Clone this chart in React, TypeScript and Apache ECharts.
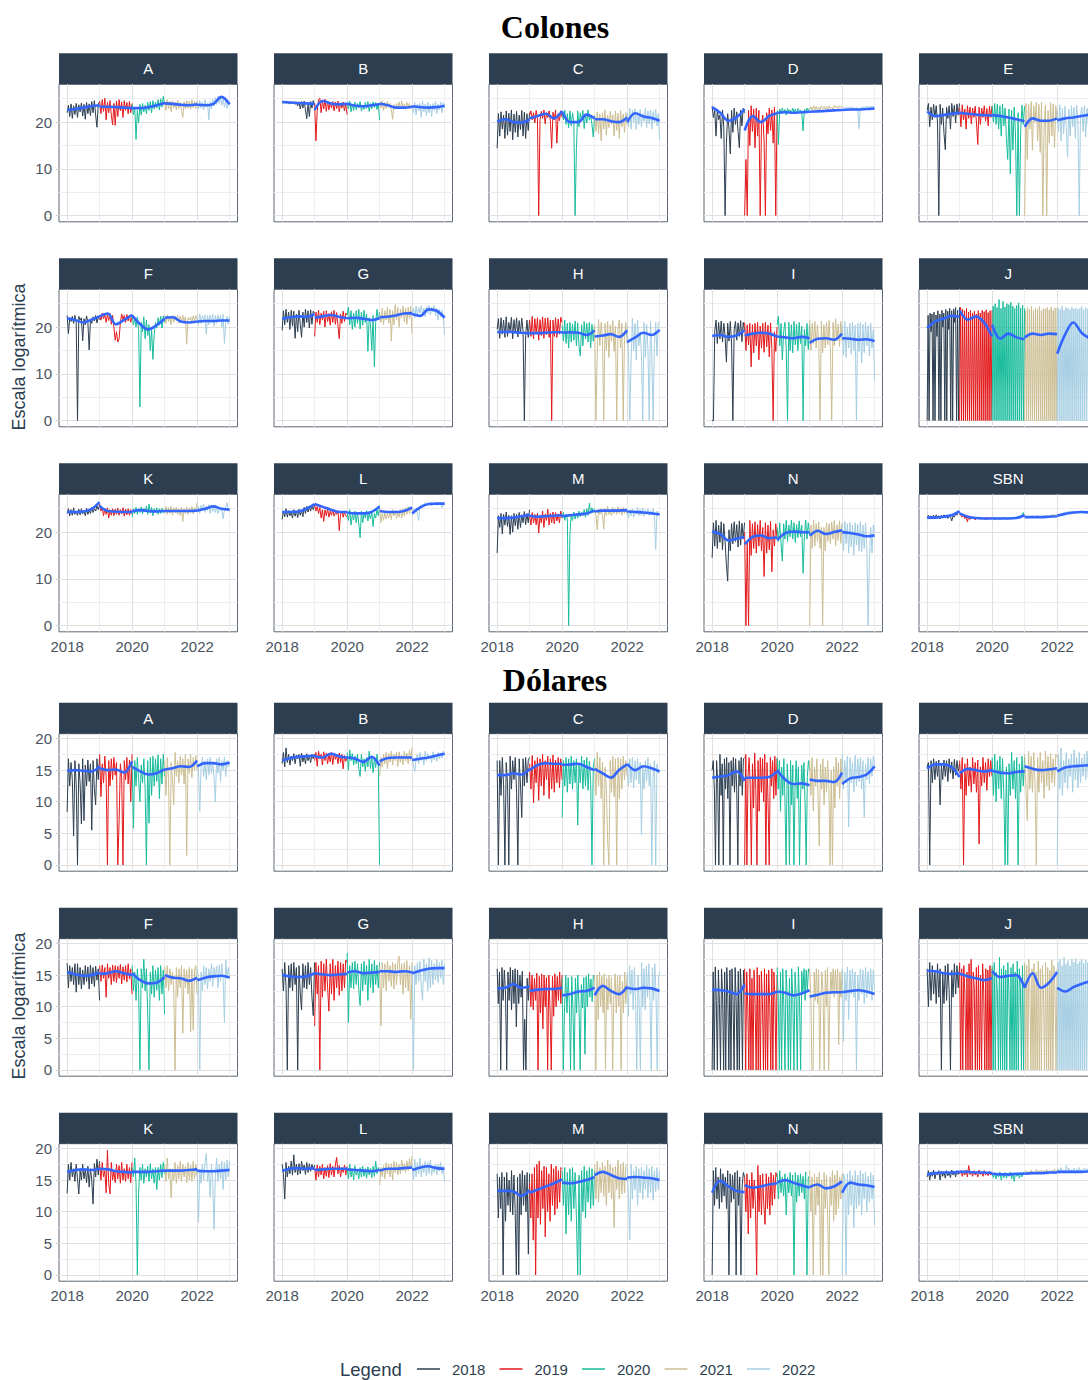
import { useEffect, useRef } from "react";
import * as echarts from "echarts";

// ---------- categories & ticks ----------
const YEARS = [2018, 2019, 2020, 2021, 2022];
const YEAR_COLORS = ["#2C3E50", "#E31A1C", "#18BC9C", "#CCBE93", "#A6CEE3"];
const PANEL_NAMES = ["A", "B", "C", "D", "E", "F", "G", "H", "I", "J", "K", "L", "M", "N", "SBN"];
const X_TICKS = [2018, 2020, 2022];
const X_MINOR = [2019, 2021, 2023];
const COLONES_TICKS = [0, 10, 20];
const COLONES_MINOR = [5, 15, 25];
const DOLARES_TICKS = [0, 5, 10, 15, 20];
const DOLARES_MINOR = [2.5, 7.5, 12.5, 17.5];

// ---------- Colones: readings per year (2018..2022) ----------
const colA = [
  [22.0, 23.6, 21.2, 23.9, 20.8, 23.5, 21.6, 24.0, 21.0, 23.7, 22.2, 24.1, 21.3, 23.8, 20.6, 24.2, 21.8, 23.9, 21.4, 24.4, 22.0, 24.6, 21.5, 18.9, 23.8, 24.3],
  [24.5, 21.8, 24.8, 22.3, 25.1, 20.5, 24.2, 22.0, 24.6, 21.5, 19.4, 24.0, 19.3, 24.5, 21.2, 24.8, 22.4, 24.3, 21.0, 24.6, 22.5, 24.2, 21.8, 24.4, 22.0, 24.0],
  [23.8, 21.6, 23.2, 16.3, 22.5, 19.8, 23.8, 21.5, 24.0, 22.2, 23.6, 21.8, 24.2, 22.5, 24.4, 22.0, 24.6, 22.8, 24.3, 23.0, 24.8, 22.6, 25.0, 23.2, 25.5, 23.8],
  [24.0, 22.5, 24.8, 22.8, 24.5, 22.2, 24.6, 23.0, 24.3, 22.6, 24.7, 22.9, 24.2, 22.4, 21.0, 24.4, 22.8, 24.6, 23.0, 24.5, 22.7, 24.8, 23.1, 24.4, 22.9, 24.6],
  [24.2, 22.8, 24.6, 23.0, 24.3, 22.6, 24.8, 23.2, 24.0, 20.5, 24.4, 22.8, 24.9, 23.4, 25.2, 23.8, 25.6, 24.0, 25.3, 23.6, 25.0, 23.2, 24.6, 22.9, 24.2, 23.6],
];
const colAFit = [[22.6, 22.8, 23.1, 23.4, 23.6], [23.3, 23.3, 23.2, 23.1, 23.0], [23.0, 23.0, 23.2, 23.6, 24.1], [24.0, 23.9, 23.7, 23.6, 23.8], [23.7, 23.6, 23.9, 25.4, 23.8]];

const colB = [
  [24.2, 24.1, 24.3, 24.0, 24.2, 24.1, 23.9, 24.2, 24.0, 24.3, 23.8, 24.2, 23.5, 24.3, 22.8, 24.4, 23.0, 24.5, 22.6, 20.7, 24.0, 21.2, 24.4, 23.0, 24.6, 23.6],
  [24.0, 16.0, 22.5, 24.8, 25.1, 22.0, 24.6, 22.8, 24.9, 22.3, 24.5, 22.6, 24.2, 23.0, 24.4, 22.4, 24.3, 22.9, 24.5, 22.2, 24.1, 23.0, 24.3, 22.4, 24.0, 21.6],
  [24.2, 22.8, 24.5, 22.2, 23.8, 22.5, 24.3, 22.6, 24.0, 23.0, 24.4, 22.4, 23.6, 22.7, 24.2, 22.9, 24.4, 22.3, 24.0, 22.8, 24.3, 23.1, 24.2, 22.7, 24.0, 20.4],
  [24.3, 23.0, 24.6, 22.5, 24.2, 22.9, 24.4, 23.2, 24.0, 22.6, 20.6, 23.8, 22.8, 24.0, 23.2, 24.3, 22.8, 24.5, 23.0, 23.9, 22.7, 24.2, 23.4, 24.0, 22.9, 23.6],
  [23.5, 22.0, 24.2, 21.5, 23.8, 22.4, 24.0, 21.0, 24.5, 22.2, 23.9, 21.4, 24.3, 22.0, 23.8, 21.2, 24.0, 22.5, 24.4, 21.8, 23.9, 22.6, 24.3, 22.0, 24.1, 23.0],
];
const colBFit = [[24.3, 24.2, 24.1, 24.0, 23.9], [22.6, 24.5, 24.0, 23.8, 23.9], [24.0, 23.5, 23.4, 23.6, 23.8], [24.0, 23.6, 23.1, 23.1, 23.3], [23.4, 23.2, 23.1, 23.2, 23.5]];

const colC = [
  [14.4, 21.8, 17.0, 22.2, 18.5, 21.5, 16.5, 22.4, 17.2, 21.9, 18.0, 22.6, 16.2, 21.7, 17.8, 22.3, 16.8, 21.5, 18.4, 22.5, 17.0, 22.1, 16.5, 21.8, 18.2, 22.0],
  [21.5, 22.4, 20.5, 22.0, 19.8, 22.5, 21.0, 0, 20.5, 22.3, 20.8, 22.6, 19.6, 22.0, 21.0, 22.4, 20.2, 14.4, 22.1, 20.5, 22.6, 15.5, 21.8, 20.3, 22.4, 21.0],
  [22.0, 20.5, 22.6, 19.5, 21.8, 18.8, 22.4, 19.2, 22.0, 20.0, 0, 14.3, 22.4, 19.0, 22.0, 20.2, 22.5, 18.6, 21.8, 19.8, 22.6, 20.4, 21.5, 19.5, 16.8, 21.5],
  [21.5, 18.0, 22.2, 17.5, 21.8, 16.0, 22.0, 18.5, 22.6, 17.2, 21.5, 18.8, 22.3, 19.5, 21.6, 17.0, 22.4, 18.2, 21.9, 16.5, 22.5, 19.0, 21.7, 17.8, 22.0, 19.5],
  [22.0, 19.0, 23.0, 18.5, 22.5, 20.0, 22.8, 18.4, 22.2, 19.5, 22.7, 19.0, 21.8, 20.2, 22.9, 18.8, 22.4, 19.6, 22.6, 18.5, 22.3, 19.8, 22.8, 19.2, 21.8, 16.2],
];
const colCFit = [[20.1, 20.6, 20.0, 19.9, 20.6], [20.8, 21.3, 21.8, 20.8, 22.4], [22.2, 20.0, 20.0, 21.6, 20.8], [20.6, 20.6, 20.2, 20.0, 21.0], [20.0, 21.9, 21.2, 20.9, 20.3]];

const colD = [
  [23.4, 21.0, 22.5, 17.0, 22.8, 20.5, 21.5, 16.5, 22.6, 19.0, 0, 15.5, 21.8, 18.5, 13.2, 22.5, 17.8, 23.0, 19.5, 22.2, 18.0, 14.5, 22.6, 19.2, 23.0, 22.0],
  [0, 12.0, 0, 22.5, 15.0, 23.5, 18.0, 22.8, 14.5, 23.0, 17.0, 22.5, 0, 19.5, 21.5, 16.0, 0, 22.0, 17.5, 23.0, 18.2, 22.6, 15.5, 23.2, 0, 22.0],
  [22.5, 15.2, 22.8, 21.8, 23.0, 22.0, 22.7, 21.5, 22.9, 22.2, 22.6, 21.9, 23.0, 22.1, 22.8, 21.7, 22.9, 22.3, 22.6, 22.0, 18.1, 22.7, 22.2, 23.0, 22.4, 23.0],
  [22.8, 23.3, 22.4, 23.5, 22.6, 23.4, 22.5, 23.2, 22.7, 23.5, 22.9, 23.3, 22.8, 23.4, 22.6, 23.5, 22.9, 23.2, 22.7, 23.6, 23.0, 23.4, 22.9, 23.5, 23.1, 23.4],
  [23.0, 23.2, 22.9, 23.1, 23.0, 23.2, 22.9, 23.3, 23.0, 23.2, 22.9, 23.1, 23.0, 18.6, 23.1, 23.0, 23.3, 23.1, 23.4, 23.2, 23.3, 23.1, 23.4, 23.2, 23.3, 23.4],
];
const colDFit = [[23.2, 22.0, 20.3, 21.0, 22.8], [18.2, 21.3, 20.0, 21.3, 21.9], [22.0, 22.1, 22.0, 22.1, 22.2], [22.2, 22.3, 22.4, 22.5, 22.6], [22.6, 22.7, 22.7, 22.8, 22.9]];

const colE = [
  [22.5, 24.0, 19.0, 23.2, 20.5, 23.8, 21.0, 23.5, 20.0, 0, 23.8, 19.5, 23.0, 17.6, 14.1, 23.2, 20.8, 23.5, 18.5, 24.0, 21.2, 23.6, 19.8, 23.9, 21.5, 24.0],
  [23.0, 19.0, 23.7, 20.5, 22.8, 18.5, 23.5, 20.8, 23.2, 19.6, 23.0, 21.0, 23.4, 19.8, 15.2, 23.2, 19.5, 23.0, 21.0, 23.5, 20.2, 22.9, 19.2, 23.4, 21.0, 23.5],
  [23.5, 20.0, 24.0, 19.5, 23.8, 18.5, 23.5, 17.0, 23.9, 19.2, 23.0, 16.5, 12.0, 22.8, 8.9, 22.5, 14.0, 23.2, 17.5, 0, 22.0, 0, 18.0, 23.6, 19.5, 23.4],
  [0, 24.0, 12.0, 23.8, 18.5, 24.4, 14.0, 23.5, 20.0, 24.2, 16.0, 23.8, 13.5, 24.3, 0, 19.0, 23.6, 0, 22.5, 15.5, 24.2, 17.0, 23.9, 14.5, 23.5, 20.5],
  [22.5, 18.0, 23.7, 16.0, 23.0, 17.5, 23.4, 19.0, 12.5, 22.8, 17.0, 23.5, 19.0, 23.2, 16.5, 23.6, 20.0, 0, 21.5, 23.2, 18.0, 23.5, 16.8, 23.0, 19.5, 23.0],
];
const colEFit = [[22.3, 21.3, 21.5, 21.8, 22.0], [22.0, 21.8, 21.6, 21.5, 21.4], [21.5, 21.3, 21.0, 20.6, 20.2], [19.0, 20.8, 20.3, 20.3, 20.8], [20.4, 20.8, 21.0, 21.3, 21.6]];

const colF = [
  [22.5, 18.6, 22.0, 21.2, 22.3, 20.8, 22.5, 21.0, 0, 22.3, 21.5, 22.0, 17.1, 21.8, 20.5, 22.4, 21.0, 15.1, 21.5, 20.8, 22.2, 21.3, 22.5, 20.9, 22.1, 21.6],
  [22.5, 21.5, 23.0, 21.8, 22.6, 21.0, 22.8, 21.4, 22.9, 20.6, 22.5, 20.0, 17.2, 19.0, 16.8, 17.5, 21.0, 22.8, 21.6, 22.5, 21.0, 22.7, 21.3, 22.4, 21.0, 22.2],
  [22.6, 20.5, 21.8, 20.0, 22.2, 19.5, 2.9, 21.0, 19.0, 22.2, 17.5, 21.5, 18.2, 20.5, 15.0, 19.5, 13.1, 18.5, 21.0, 19.8, 22.0, 20.4, 22.3, 19.8, 22.4, 21.0],
  [22.4, 20.8, 22.6, 21.2, 22.3, 20.5, 22.5, 21.0, 22.4, 21.4, 22.6, 20.8, 22.3, 21.2, 22.5, 21.0, 22.2, 16.3, 22.0, 21.5, 22.2, 21.0, 22.4, 21.3, 22.5, 21.6],
  [22.0, 20.5, 22.8, 20.8, 22.4, 21.0, 22.6, 18.5, 22.5, 20.5, 22.6, 21.0, 22.7, 20.2, 22.5, 20.8, 22.6, 21.2, 22.4, 20.0, 22.7, 16.5, 21.0, 22.3, 20.6, 22.4],
];
const colFFit = [[21.9, 21.5, 21.0, 21.6, 22.3], [22.3, 22.9, 20.6, 21.5, 22.6], [22.5, 20.6, 19.5, 20.4, 21.8], [22.0, 22.1, 21.2, 21.0, 21.2], [21.2, 21.3, 21.3, 21.4, 21.4]];

const colG = [
  [19.3, 23.5, 20.5, 23.8, 21.0, 23.2, 19.5, 23.6, 20.2, 23.4, 17.6, 22.8, 19.0, 23.6, 20.5, 17.8, 23.2, 20.0, 23.8, 21.0, 23.5, 19.8, 23.7, 20.6, 23.4, 23.0],
  [18.0, 23.2, 21.0, 23.6, 20.5, 23.0, 21.5, 23.4, 20.0, 23.5, 21.2, 22.9, 20.4, 23.3, 21.0, 23.6, 20.6, 23.1, 20.2, 17.5, 22.8, 20.8, 23.4, 21.2, 23.0, 22.6],
  [22.5, 24.3, 20.5, 23.5, 19.5, 23.0, 20.0, 23.5, 20.8, 23.8, 19.6, 23.2, 20.4, 23.6, 21.0, 22.8, 14.8, 22.0, 20.5, 15.0, 22.5, 11.5, 21.0, 23.8, 21.5, 23.2],
  [23.0, 21.0, 24.0, 20.5, 23.5, 21.5, 24.2, 20.8, 23.8, 17.0, 23.5, 20.5, 24.8, 21.5, 24.2, 20.0, 23.8, 22.0, 24.5, 21.2, 24.0, 20.6, 24.3, 21.8, 24.5, 18.5],
  [22.5, 24.0, 22.0, 24.5, 22.5, 24.2, 23.0, 24.6, 22.8, 24.0, 22.2, 24.4, 23.0, 24.7, 22.6, 24.3, 23.2, 24.6, 22.4, 24.0, 21.5, 23.8, 22.2, 23.6, 22.0, 18.3],
];
const colGFit = [[21.8, 22.1, 22.3, 22.2, 22.8], [22.0, 22.3, 22.6, 22.2, 21.9], [21.9, 22.0, 21.8, 21.5, 21.9], [22.1, 22.2, 22.5, 22.9, 23.0], [22.8, 22.4, 23.8, 23.5, 22.0]];

const colH = [
  [19.5, 21.8, 17.6, 22.0, 18.5, 21.5, 17.8, 22.2, 18.0, 21.0, 19.0, 22.1, 17.5, 21.6, 18.8, 22.0, 17.9, 21.4, 18.6, 21.9, 19.2, 0, 18.2, 21.5, 17.8, 21.5],
  [21.5, 18.0, 22.3, 17.5, 21.8, 18.5, 22.0, 17.2, 21.6, 18.2, 22.2, 17.6, 21.9, 18.4, 22.0, 17.8, 21.5, 0, 21.5, 18.0, 22.0, 17.8, 21.7, 18.5, 22.1, 21.0],
  [20.5, 17.0, 21.5, 16.5, 20.8, 15.5, 21.0, 16.8, 20.6, 17.2, 21.3, 16.0, 20.9, 15.8, 13.8, 20.5, 16.0, 21.2, 17.5, 20.8, 16.8, 21.0, 15.6, 20.6, 17.0, 20.4],
  [20.5, 0, 14.5, 21.6, 16.0, 21.0, 18.0, 0, 20.8, 15.0, 21.2, 13.5, 20.5, 17.0, 21.4, 14.8, 20.2, 0, 19.5, 21.5, 15.5, 20.8, 0, 18.0, 21.0, 16.5],
  [20.5, 15.0, 0, 12.5, 21.9, 15.0, 20.8, 13.0, 21.5, 16.0, 19.0, 14.0, 0, 21.0, 13.5, 20.6, 15.5, 0, 21.2, 14.2, 0, 16.5, 21.0, 13.8, 20.8, 21.2],
];
const colHFit = [[18.9, 19.0, 18.9, 18.8, 18.6], [18.7, 18.7, 18.8, 18.9, 18.9], [18.8, 18.9, 18.8, 18.3, 19.3], [18.0, 18.2, 18.5, 17.9, 19.3], [16.8, 17.8, 18.8, 18.3, 19.4]];

const colI = [
  [0, 0, 19.0, 21.5, 16.5, 21.0, 17.5, 21.3, 16.8, 20.8, 18.0, 12.5, 20.8, 17.0, 21.2, 16.6, 0, 19.5, 21.2, 17.2, 20.9, 18.0, 21.4, 16.9, 21.0, 19.3],
  [21.0, 15.0, 20.5, 16.2, 20.8, 11.5, 20.5, 14.5, 20.8, 16.0, 21.0, 13.0, 20.2, 15.5, 20.8, 14.6, 21.0, 15.8, 20.4, 13.6, 20.9, 15.2, 0, 19.0, 14.8, 20.0],
  [20.5, 22.3, 16.0, 20.8, 13.0, 19.0, 21.0, 15.5, 0, 21.0, 15.0, 20.5, 14.5, 21.2, 16.2, 20.6, 15.0, 21.0, 16.5, 20.2, 0, 19.5, 16.0, 20.8, 15.2, 20.6],
  [21.5, 15.0, 20.8, 16.5, 21.2, 15.5, 20.5, 17.0, 0, 21.2, 14.5, 20.5, 15.5, 21.0, 16.2, 21.4, 15.0, 0, 21.0, 16.0, 21.8, 17.0, 20.6, 15.8, 21.2, 17.0],
  [20.5, 14.0, 21.2, 13.5, 20.0, 15.5, 20.8, 14.2, 21.0, 15.0, 20.4, 0, 20.8, 14.8, 21.0, 12.3, 20.6, 14.5, 21.1, 16.0, 20.3, 13.8, 20.8, 15.5, 19.5, 8.5],
];
const colIFit = [[18.1, 18.3, 17.9, 18.2, 19.3], [18.2, 18.6, 18.8, 18.6, 18.0], [18.0, 17.8, 17.6, 17.9, 17.6], [16.6, 17.5, 17.6, 17.3, 18.6], [17.6, 17.5, 17.3, 17.4, 17.0]];

const colJ = [
  [0, 22.5, 0, 23.0, 19.0, 22.8, 0, 23.2, 0, 22.6, 18.0, 23.5, 0, 22.8, 0, 23.6, 20.0, 23.0, 0, 23.8, 0, 23.4, 19.5, 24.0, 0, 23.5, 0, 23.9, 21.0, 24.2, 0, 23.6, 0, 24.2],
  [0, 24.2, 0, 23.8, 0, 23.5, 0, 24.0, 0, 23.2, 0, 23.6, 0, 23.0, 0, 23.4, 0, 22.8, 0, 23.5, 0, 23.0, 0, 23.6, 0, 23.3, 0, 23.7, 0, 23.1, 0, 23.5, 0, 23.6],
  [0, 24.5, 0, 25.0, 0, 24.2, 0, 25.9, 0, 24.0, 0, 25.5, 0, 24.3, 0, 25.0, 0, 24.8, 0, 25.3, 0, 24.5, 0, 24.0, 0, 24.6, 0, 25.2, 0, 24.1, 0, 24.7, 0, 24.0],
  [0, 23.5, 0, 24.2, 0, 23.8, 0, 24.5, 0, 23.6, 0, 24.0, 0, 23.8, 0, 24.4, 0, 23.5, 0, 24.0, 0, 23.9, 0, 24.2, 0, 23.7, 0, 24.3, 0, 23.6, 0, 24.1, 0, 24.2],
  [0, 24.0, 0, 23.8, 0, 24.5, 0, 23.6, 0, 24.2, 0, 24.0, 0, 23.7, 0, 24.3, 0, 23.9, 0, 24.1, 0, 23.8, 0, 24.0, 0, 24.4, 0, 23.7, 0, 24.2, 0, 23.9, 0, 24.0],
];
const colJFit = [[19.8, 21.2, 21.8, 22.4, 22.2], [23.5, 21.6, 22.3, 21.0, 18.0], [20.5, 17.5, 18.6, 17.8, 17.4], [17.8, 18.6, 18.3, 18.6, 18.5], [14.3, 18.5, 21.0, 18.8, 17.6]];

const colK = [
  [24.0, 25.0, 23.5, 24.8, 23.6, 25.2, 23.8, 24.5, 23.6, 24.9, 23.7, 25.0, 23.9, 24.6, 23.5, 25.1, 23.8, 24.7, 24.0, 25.3, 24.2, 25.0, 24.5, 25.6, 24.8, 25.8],
  [26.0, 24.5, 25.3, 23.5, 25.0, 23.8, 25.2, 23.0, 24.8, 23.6, 25.0, 23.5, 24.9, 23.8, 25.1, 23.6, 24.8, 23.9, 25.2, 23.4, 24.9, 23.7, 25.0, 23.6, 24.8, 23.8],
  [23.2, 25.0, 24.0, 25.3, 23.8, 25.0, 24.2, 25.4, 23.9, 25.1, 24.3, 25.6, 23.8, 26.0, 24.1, 25.3, 23.5, 25.0, 24.2, 25.2, 23.8, 25.0, 24.0, 25.1, 24.2, 24.8],
  [24.0, 25.5, 23.8, 25.3, 24.0, 25.5, 23.6, 25.2, 24.1, 25.4, 23.8, 25.0, 23.5, 25.3, 22.3, 25.0, 24.0, 25.4, 23.8, 25.2, 24.2, 25.5, 23.9, 25.2, 24.5, 26.3],
  [24.5, 25.5, 24.0, 25.8, 24.8, 26.0, 24.2, 25.5, 24.6, 25.9, 24.0, 25.6, 24.4, 25.8, 24.2, 25.5, 24.0, 25.2, 24.5, 25.0, 22.8, 24.8, 25.4, 26.3, 24.6, 24.5],
];
const colKFit = [[24.3, 24.3, 24.4, 24.9, 26.4], [25.6, 24.5, 24.4, 24.3, 24.3], [24.4, 24.7, 24.5, 24.4, 24.5], [24.5, 24.5, 24.5, 24.5, 24.6], [24.6, 25.0, 25.5, 25.0, 24.8]];

const colL = [
  [22.7, 24.5, 23.3, 25.0, 23.2, 24.6, 23.5, 24.2, 23.0, 24.8, 23.4, 24.5, 23.1, 24.9, 23.6, 24.7, 23.3, 25.3, 24.0, 25.5, 24.3, 25.4, 24.5, 25.8, 24.8, 25.8],
  [25.8, 24.5, 25.5, 24.0, 25.3, 23.0, 24.8, 22.3, 24.8, 23.5, 25.0, 23.2, 24.5, 23.6, 24.9, 23.4, 24.2, 23.8, 24.6, 20.3, 23.8, 24.5, 23.2, 24.4, 23.5, 23.2],
  [24.0, 22.5, 24.8, 21.5, 23.8, 22.6, 24.5, 22.0, 24.2, 21.8, 18.8, 24.5, 22.0, 24.2, 23.0, 24.6, 22.4, 24.0, 22.8, 24.3, 21.2, 24.0, 23.0, 24.8, 23.5, 25.7],
  [25.0, 22.0, 24.0, 22.5, 24.2, 22.8, 24.0, 23.0, 24.5, 22.7, 24.8, 23.5, 24.6, 22.9, 24.4, 23.2, 24.8, 23.0, 25.0, 23.4, 25.2, 23.8, 25.5, 24.0, 25.3, 24.5],
  [24.0, 25.0, 24.3, 25.2, 23.8, 22.5, 25.5, 25.8, 26.0, 25.5, 26.3, 25.8, 26.2, 25.9, 26.4, 25.6, 26.2, 25.8, 26.3, 25.7, 26.4, 25.9, 26.2, 25.2, 26.0, 26.0],
];
const colLFit = [[24.3, 24.3, 24.4, 25.0, 26.0], [26.0, 25.4, 24.8, 24.3, 24.3], [24.2, 24.0, 24.0, 24.3, 25.5], [24.5, 24.3, 24.3, 24.5, 25.3], [24.0, 25.3, 26.0, 26.1, 26.1]];

const colM = [
  [15.5, 23.5, 21.0, 24.0, 19.6, 23.8, 21.5, 24.3, 21.2, 23.6, 19.5, 23.5, 20.0, 24.0, 21.4, 23.8, 20.6, 24.2, 21.0, 23.7, 22.0, 24.4, 21.6, 24.0, 22.0, 24.8],
  [23.5, 21.5, 24.2, 22.0, 23.8, 21.6, 24.0, 19.8, 23.5, 22.0, 24.5, 21.0, 23.8, 22.5, 24.9, 21.5, 24.0, 22.0, 24.3, 21.8, 24.2, 22.4, 23.9, 22.0, 24.5, 23.0],
  [23.0, 24.2, 22.5, 23.8, 22.8, 0, 19.6, 23.8, 22.5, 24.3, 22.8, 24.0, 23.0, 24.5, 23.3, 24.2, 23.5, 24.8, 23.2, 25.0, 23.6, 26.2, 24.0, 25.2, 24.2, 25.0],
  [24.5, 23.5, 20.5, 24.8, 23.8, 25.0, 23.5, 20.6, 25.0, 23.5, 25.5, 23.8, 24.8, 23.5, 25.3, 24.0, 25.0, 23.8, 25.4, 24.0, 25.1, 23.6, 25.3, 24.0, 25.0, 23.8],
  [24.5, 23.0, 24.8, 23.5, 25.0, 23.2, 24.6, 23.8, 25.3, 23.5, 24.9, 23.6, 25.2, 23.4, 24.8, 23.8, 25.0, 23.5, 24.6, 23.9, 25.0, 23.6, 16.3, 24.5, 23.8, 24.0],
];
const colMFit = [[23.0, 23.0, 23.1, 23.4, 23.7], [23.5, 23.3, 23.4, 23.5, 23.6], [23.4, 23.6, 23.8, 24.0, 24.6], [24.4, 24.6, 24.6, 24.6, 24.7], [24.4, 24.3, 24.2, 24.0, 23.8]];

const colN = [
  [14.5, 22.0, 17.0, 22.5, 16.5, 21.5, 17.8, 22.2, 16.2, 21.8, 18.0, 13.0, 9.5, 20.5, 16.0, 21.8, 17.5, 22.2, 18.0, 21.6, 16.8, 22.4, 17.2, 21.9, 18.5, 22.0],
  [20.0, 0, 18.0, 0, 22.5, 15.0, 21.8, 16.5, 22.2, 15.5, 21.6, 17.0, 22.5, 16.0, 21.0, 10.5, 22.0, 15.5, 21.5, 16.2, 22.3, 11.5, 20.5, 17.0, 21.8, 18.5],
  [21.0, 18.0, 22.0, 17.5, 13.8, 21.8, 18.5, 22.5, 18.0, 21.5, 19.0, 22.6, 18.5, 22.0, 17.8, 21.6, 18.8, 22.4, 19.0, 21.5, 11.2, 19.0, 22.6, 18.5, 22.0, 19.5],
  [0, 21.5, 16.5, 22.6, 17.0, 21.8, 18.0, 22.2, 16.5, 21.0, 0, 21.0, 16.0, 22.0, 18.0, 21.8, 17.5, 22.2, 18.5, 22.5, 17.0, 21.6, 18.2, 22.4, 17.6, 22.0],
  [21.5, 16.0, 22.3, 17.5, 21.8, 15.5, 22.0, 16.8, 21.5, 15.0, 22.0, 17.2, 21.7, 16.0, 22.2, 15.8, 21.5, 16.5, 22.0, 17.0, 0, 14.0, 21.0, 15.5, 21.5, 20.0],
];
const colNFit = [[20.1, 19.6, 18.2, 18.6, 19.0], [17.4, 19.0, 19.3, 18.7, 18.9], [18.3, 19.8, 20.1, 20.0, 19.9], [19.2, 20.3, 19.6, 20.0, 20.4], [20.0, 19.8, 19.5, 19.1, 19.3]];

const colSBN = [
  [23.2, 23.6, 22.9, 23.5, 23.0, 23.6, 22.9, 23.7, 23.1, 23.5, 22.8, 23.6, 23.0, 23.7, 23.1, 23.5, 22.9, 23.6, 23.2, 22.4, 23.5, 23.2, 23.9, 23.6, 24.5, 24.0],
  [24.0, 23.5, 23.2, 23.6, 22.9, 23.4, 22.2, 23.4, 22.7, 23.3, 22.8, 23.1, 22.6, 23.2, 22.8, 23.0, 22.7, 23.1, 22.9, 23.0, 22.6, 23.2, 22.8, 23.0, 22.9, 23.1],
  [22.9, 23.2, 22.6, 23.1, 22.8, 23.2, 22.7, 23.0, 22.9, 23.2, 22.8, 23.1, 22.7, 23.2, 22.9, 23.0, 22.8, 23.2, 23.0, 23.3, 22.9, 23.5, 23.2, 23.6, 24.2, 23.4],
  [23.4, 23.0, 23.5, 23.1, 23.4, 23.0, 23.5, 23.2, 23.4, 23.1, 23.6, 23.3, 23.4, 23.1, 23.5, 23.2, 23.6, 23.3, 23.5, 23.2, 23.7, 23.3, 23.8, 23.5, 23.7, 23.6],
  [23.4, 23.8, 23.6, 24.0, 23.8, 24.2, 24.0, 24.4, 24.1, 24.5, 24.2, 24.4, 24.0, 24.5, 24.2, 24.4, 24.1, 24.5, 24.2, 24.4, 24.0, 24.3, 24.1, 24.4, 24.1, 24.2],
];
const colSBNFit = [[23.1, 23.1, 23.3, 23.6, 24.5], [24.0, 23.3, 23.0, 22.9, 22.9], [22.9, 22.9, 22.9, 23.0, 23.6], [23.2, 23.2, 23.2, 23.3, 23.4], [23.5, 23.9, 24.2, 24.3, 24.2]];

// ---------- Dólares: readings per year (2018..2022) ----------
const usdA = [
  [8.4, 16.8, 12.5, 16.2, 13.5, 4.6, 16.5, 12.8, 0, 16.0, 13.0, 6.5, 16.8, 7.0, 15.8, 12.5, 16.6, 13.2, 16.0, 5.5, 16.5, 12.0, 9.5, 16.8, 13.5, 17.0],
  [17.5, 10.8, 16.0, 13.0, 17.2, 14.0, 0, 16.5, 12.5, 16.8, 13.5, 17.0, 14.2, 16.2, 0, 6.8, 16.0, 13.8, 0, 16.5, 13.5, 17.0, 12.8, 16.6, 10.0, 17.5],
  [16.0, 5.8, 16.5, 12.5, 17.0, 13.5, 10.0, 15.8, 13.0, 16.8, 12.2, 0, 16.5, 6.6, 17.0, 11.0, 17.2, 12.5, 16.8, 13.2, 17.4, 10.5, 16.8, 12.8, 17.5, 14.0],
  [16.5, 11.0, 17.0, 13.5, 0, 16.2, 13.5, 9.5, 17.8, 14.0, 16.5, 13.0, 17.2, 14.2, 16.8, 12.8, 17.5, 1.5, 16.8, 14.5, 17.5, 13.8, 17.0, 15.0, 17.3, 15.0],
  [16.5, 15.0, 8.5, 15.5, 17.0, 14.0, 16.5, 13.5, 16.8, 14.2, 17.0, 14.5, 16.2, 13.8, 10.0, 16.8, 14.5, 17.0, 13.2, 16.5, 15.0, 17.1, 14.0, 16.5, 15.5, 16.2],
];
const usdAFit = [[14.9, 15.0, 14.9, 14.8, 15.6], [15.3, 15.0, 15.1, 14.6, 16.4], [15.5, 14.8, 14.3, 14.5, 15.1], [15.1, 15.3, 15.6, 15.5, 16.5], [15.6, 16.1, 16.1, 15.9, 16.2]];

const usdB = [
  [16.0, 17.8, 15.5, 18.5, 16.2, 17.5, 15.8, 17.2, 16.5, 17.6, 16.0, 17.4, 16.8, 17.5, 15.6, 17.7, 16.3, 17.3, 16.0, 17.6, 16.5, 17.2, 16.2, 17.5, 16.8, 17.5],
  [16.5, 17.8, 15.6, 18.0, 16.8, 17.5, 15.8, 17.9, 16.5, 17.7, 16.0, 17.5, 16.3, 17.8, 15.9, 17.6, 16.7, 17.4, 16.0, 17.7, 16.2, 17.5, 15.2, 17.3, 16.4, 17.0],
  [17.8, 15.0, 18.2, 16.5, 17.6, 15.8, 17.2, 16.0, 17.5, 15.2, 14.0, 17.5, 15.5, 16.8, 14.8, 17.0, 15.5, 18.0, 15.2, 17.2, 14.6, 16.8, 15.4, 17.5, 16.0, 0],
  [14.0, 17.0, 15.5, 17.5, 16.0, 17.8, 15.2, 17.6, 16.3, 18.0, 15.8, 17.5, 16.5, 17.8, 15.6, 17.9, 16.2, 17.4, 15.8, 18.0, 16.4, 17.7, 16.0, 18.2, 16.5, 18.6],
  [17.0, 15.8, 14.8, 16.8, 17.5, 16.0, 17.8, 16.5, 17.2, 15.8, 18.0, 16.5, 17.6, 16.8, 17.3, 16.2, 17.9, 16.6, 17.4, 16.4, 17.8, 16.8, 17.6, 16.9, 18.0, 17.5],
];
const usdBFit = [[16.5, 16.9, 17.1, 17.2, 17.3], [17.2, 17.0, 17.6, 17.2, 17.0], [17.0, 16.8, 16.3, 17.1, 15.7], [16.4, 16.9, 17.0, 17.0, 17.0], [16.6, 16.8, 17.0, 17.3, 17.6]];

const usdC = [
  [16.5, 0, 16.5, 11.0, 17.0, 12.5, 0, 16.2, 13.0, 0, 17.2, 12.0, 16.5, 13.5, 17.0, 11.5, 0, 16.8, 12.8, 7.5, 16.8, 12.5, 17.0, 13.0, 16.5, 17.0],
  [16.0, 12.0, 17.3, 9.8, 16.5, 13.0, 17.0, 10.2, 16.8, 12.5, 17.5, 11.0, 16.5, 13.5, 17.2, 10.5, 16.8, 12.0, 17.4, 11.5, 16.6, 13.0, 17.0, 12.2, 16.8, 13.5],
  [7.5, 16.5, 12.5, 17.0, 11.5, 16.8, 12.8, 17.2, 12.0, 16.5, 13.0, 16.8, 6.3, 16.0, 13.0, 17.2, 12.0, 16.6, 12.5, 17.0, 11.8, 16.4, 13.2, 0, 15.5, 16.8],
  [16.5, 11.0, 17.8, 12.5, 17.0, 10.5, 16.2, 0, 15.5, 12.0, 4.0, 0, 16.5, 11.5, 17.2, 10.8, 16.8, 0, 17.0, 10.5, 16.8, 12.0, 17.2, 13.5, 16.5, 14.0],
  [16.0, 12.5, 16.8, 13.0, 17.0, 12.2, 16.5, 13.5, 16.8, 12.8, 16.2, 4.8, 15.5, 12.0, 16.5, 13.2, 17.0, 12.5, 16.0, 0, 14.0, 16.5, 0, 16.0, 14.5, 15.0],
];
const usdCFit = [[14.2, 14.2, 14.5, 14.3, 15.2], [15.0, 15.8, 16.1, 16.0, 16.0], [15.8, 15.9, 16.0, 15.5, 15.0], [15.2, 14.5, 13.8, 15.0, 15.9], [16.0, 15.0, 15.6, 15.3, 14.8]];

const usdD = [
  [15.0, 16.5, 12.0, 0, 16.5, 13.0, 0, 17.5, 11.0, 16.0, 0, 16.8, 12.0, 17.0, 10.5, 16.2, 0, 16.5, 12.5, 17.0, 11.5, 16.8, 12.0, 0, 16.5, 12.5, 17.0, 11.0, 16.8, 17.0],
  [0, 17.5, 0, 14.0, 17.0, 12.5, 0, 16.0, 9.0, 17.7, 12.0, 0, 16.5, 8.5, 17.0, 11.5, 16.8, 10.0, 17.5, 0, 16.2, 9.5, 0, 17.0, 12.5, 16.5, 10.5, 17.2, 11.0, 16.8],
  [17.0, 12.0, 16.5, 8.5, 15.5, 11.0, 16.8, 10.0, 0, 16.0, 12.5, 0, 16.5, 9.5, 15.8, 0, 12.0, 16.5, 10.5, 15.5, 0, 11.0, 15.8, 12.0, 16.2, 9.5, 0, 14.0, 16.5, 15.0],
  [16.5, 11.0, 17.0, 8.5, 15.5, 12.5, 16.8, 10.5, 3.0, 16.0, 12.0, 16.8, 9.5, 15.5, 11.5, 16.5, 12.5, 0, 15.0, 0, 15.5, 9.0, 17.0, 12.5, 16.2, 10.5, 16.8, 13.0],
  [17.5, 12.0, 16.5, 13.0, 17.2, 6.0, 17.0, 13.0, 16.2, 11.5, 17.3, 12.5, 16.8, 13.2, 17.0, 12.0, 16.5, 7.5, 16.0, 13.5, 17.0, 12.8, 16.8, 14.0, 17.2, 15.5],
];
const usdDFit = [[13.8, 14.0, 14.2, 14.8, 13.3], [13.8, 13.8, 13.8, 13.9, 14.8], [15.0, 13.5, 12.8, 12.9, 12.6], [13.5, 13.3, 13.3, 13.1, 14.6], [12.8, 13.7, 13.9, 14.3, 15.6]];

const usdE = [
  [15.5, 16.2, 0, 16.5, 13.0, 16.8, 13.5, 16.4, 14.0, 16.6, 9.5, 15.8, 13.5, 16.6, 14.0, 16.5, 13.2, 16.8, 14.5, 16.3, 13.6, 16.7, 14.2, 16.5, 14.8, 16.0],
  [16.5, 12.0, 17.0, 0, 16.0, 11.0, 16.8, 12.5, 15.5, 11.5, 17.0, 12.8, 16.2, 11.5, 16.6, 3.3, 15.5, 12.5, 17.0, 13.0, 16.2, 11.8, 16.8, 14.0, 16.5, 14.0],
  [17.0, 11.0, 17.5, 10.0, 16.5, 12.0, 17.2, 10.5, 16.8, 11.5, 0, 15.5, 0, 16.0, 11.0, 17.8, 12.0, 16.5, 10.5, 17.0, 0, 16.0, 11.5, 17.2, 12.5, 17.0],
  [17.5, 12.0, 7.0, 18.0, 12.0, 17.2, 11.5, 17.8, 13.0, 0, 17.0, 11.5, 17.8, 13.0, 16.5, 10.5, 18.0, 12.5, 17.2, 11.8, 17.6, 13.0, 16.8, 12.5, 17.5, 17.0],
  [0, 17.5, 12.0, 18.5, 11.0, 16.5, 13.0, 17.8, 12.0, 16.8, 14.0, 17.5, 11.5, 18.2, 13.5, 17.0, 12.2, 17.8, 13.0, 16.9, 14.0, 17.5, 13.5, 18.0, 13.8, 17.0],
];
const usdEFit = [[15.2, 15.9, 15.9, 15.5, 13.9], [14.5, 15.2, 15.0, 14.8, 15.0], [14.9, 14.6, 14.5, 14.7, 14.8], [15.6, 15.2, 15.0, 15.1, 15.3], [14.8, 15.4, 15.6, 15.7, 15.8]];

const usdF = [
  [16.9, 13.0, 16.5, 14.0, 16.2, 13.5, 16.8, 12.3, 16.8, 13.5, 16.2, 12.8, 15.8, 13.5, 16.5, 14.0, 16.3, 12.8, 16.6, 13.6, 16.2, 13.2, 16.4, 14.2, 16.0, 11.0],
  [16.5, 14.0, 16.6, 14.5, 16.2, 11.5, 16.8, 14.5, 16.2, 13.5, 16.6, 14.0, 16.5, 13.8, 16.4, 14.5, 16.7, 13.6, 16.3, 14.2, 16.5, 13.9, 16.8, 14.4, 16.0, 12.0],
  [16.5, 12.5, 15.5, 11.0, 16.0, 12.8, 0, 16.0, 13.0, 17.5, 12.5, 16.0, 9.0, 0, 15.5, 12.0, 16.5, 11.5, 15.8, 12.6, 16.2, 11.0, 16.5, 12.0, 15.8, 8.8],
  [16.3, 13.0, 16.5, 12.5, 16.0, 13.5, 15.5, 12.8, 0, 16.2, 11.5, 16.0, 13.0, 16.5, 5.8, 16.0, 13.0, 15.8, 12.0, 16.2, 6.0, 16.0, 6.3, 15.8, 16.5, 12.0],
  [16.0, 14.5, 0, 15.5, 12.5, 16.5, 13.5, 16.2, 12.8, 16.0, 14.0, 16.8, 13.2, 16.2, 14.5, 16.4, 13.0, 16.6, 14.0, 16.8, 14.5, 7.5, 17.4, 14.5, 16.2, 14.5],
];
const usdFFit = [[15.5, 15.1, 14.9, 15.0, 15.4], [15.2, 15.3, 15.6, 15.3, 15.0], [15.3, 14.2, 13.7, 13.8, 14.7], [15.0, 14.6, 14.5, 14.1, 14.6], [14.2, 14.6, 14.8, 14.9, 14.6]];

const usdG = [
  [16.0, 12.5, 17.0, 13.2, 0, 16.5, 13.0, 16.8, 12.5, 17.0, 13.5, 16.2, 0, 16.5, 12.0, 9.5, 16.8, 13.0, 16.5, 12.8, 17.0, 13.5, 16.2, 11.5, 8.6, 17.0],
  [7.0, 17.0, 12.0, 16.5, 0, 17.2, 11.5, 16.8, 12.5, 17.5, 13.0, 9.3, 16.8, 12.0, 17.5, 11.0, 16.5, 13.0, 17.2, 11.8, 17.0, 12.5, 16.8, 13.0, 17.4, 17.0],
  [18.5, 7.5, 16.5, 13.0, 17.0, 12.8, 17.2, 13.5, 16.8, 12.5, 10.2, 16.8, 12.5, 17.2, 13.5, 16.5, 11.0, 17.5, 13.0, 16.8, 12.2, 17.3, 13.5, 16.6, 13.0, 17.0],
  [16.5, 7.0, 17.0, 13.0, 16.8, 12.5, 17.2, 14.0, 16.5, 13.2, 17.0, 12.8, 16.8, 13.5, 17.2, 18.0, 13.5, 16.8, 12.0, 17.0, 13.0, 17.3, 12.5, 16.5, 8.0, 17.0],
  [16.5, 0, 16.5, 13.5, 17.0, 14.0, 17.2, 13.0, 11.0, 17.5, 14.0, 16.8, 12.5, 17.7, 13.0, 17.3, 13.5, 16.8, 14.2, 17.5, 13.8, 17.0, 14.5, 17.4, 13.5, 16.8],
];
const usdGFit = [[15.0, 14.8, 14.7, 14.8, 15.3], [15.3, 15.1, 15.0, 15.1, 15.2], [15.4, 15.6, 15.3, 15.4, 15.5], [15.6, 15.6, 15.5, 15.6, 15.4], [15.3, 15.7, 16.0, 16.1, 16.1]];

const usdH = [
  [16.0, 10.5, 15.5, 0, 16.2, 11.0, 15.8, 12.0, 0, 15.5, 11.0, 16.2, 9.5, 15.8, 10.5, 16.0, 6.8, 15.8, 10.5, 15.0, 11.5, 15.6, 0, 8.0, 0, 14.5, 11.0, 15.5],
  [15.5, 10.0, 15.0, 9.5, 14.5, 11.0, 15.3, 0, 14.8, 9.0, 15.2, 6.5, 15.0, 10.0, 14.6, 0, 15.0, 9.5, 0, 14.8, 8.5, 15.2, 10.0, 14.8, 11.0, 15.5, 10.5, 15.0],
  [14.5, 0, 10.0, 15.0, 9.0, 14.6, 10.5, 0, 14.8, 9.5, 0, 14.5, 9.0, 15.0, 10.2, 0, 13.5, 9.8, 14.6, 2.5, 14.8, 10.0, 15.2, 11.5, 14.4, 10.8, 15.0, 14.5],
  [15.0, 0, 15.0, 8.0, 15.5, 10.0, 14.8, 9.0, 15.2, 0, 14.5, 9.5, 15.0, 10.5, 14.6, 0, 12.0, 15.2, 9.0, 14.8, 10.0, 15.0, 0, 14.0, 9.0, 15.5, 10.5, 15.0],
  [15.5, 8.5, 16.5, 12.0, 15.8, 9.5, 16.2, 11.0, 0, 15.0, 10.5, 0, 17.0, 10.0, 16.0, 9.5, 16.5, 11.5, 16.8, 10.8, 0, 16.2, 11.0, 16.8, 12.0, 0, 14.5, 15.5],
];
const usdHFit = [[12.9, 13.0, 13.6, 13.0, 13.2], [12.5, 12.7, 12.8, 12.8, 13.0], [11.8, 12.0, 12.4, 12.5, 13.0], [11.8, 13.3, 12.5, 12.0, 13.2], [13.0, 12.8, 13.0, 12.9, 12.5]];

const usdI = [
  [0, 15.5, 0, 16.3, 11.0, 0, 15.8, 10.5, 0, 16.0, 12.0, 0, 15.5, 0, 16.2, 11.5, 0, 15.8, 0, 16.0, 11.0, 0, 16.2, 10.8, 0, 15.6, 0, 16.0, 12.5, 0, 15.8, 13.0],
  [16.0, 0, 15.5, 10.0, 0, 16.0, 0, 14.5, 0, 15.8, 10.5, 0, 16.2, 0, 15.0, 0, 15.6, 11.0, 0, 16.0, 0, 15.2, 0, 15.8, 10.2, 0, 16.0, 0, 15.5, 11.0, 0, 15.0],
  [16.2, 11.0, 0, 15.5, 0, 16.0, 10.0, 0, 15.8, 11.5, 0, 14.5, 0, 16.0, 11.5, 0, 15.5, 12.0, 0, 16.3, 10.8, 0, 15.6, 12.0, 16.0, 11.0, 15.8, 12.5, 16.0, 15.5],
  [16.0, 12.0, 0, 0, 15.5, 11.0, 16.0, 10.5, 15.8, 0, 11.0, 15.5, 12.0, 0, 15.8, 10.0, 16.2, 0, 10.5, 15.5, 12.0, 16.0, 11.5, 15.8, 12.0, 16.0, 4.0, 15.5, 11.5, 15.8],
  [16.0, 4.5, 15.5, 11.0, 16.3, 8.0, 15.8, 12.0, 16.0, 11.5, 15.5, 0, 15.0, 11.0, 16.0, 12.0, 15.8, 10.5, 16.2, 11.5, 15.6, 12.0, 16.0, 11.0, 15.8, 12.5],
];
const usdIFit = [[12.7, 12.6, 12.4, 12.0, 13.5], [12.1, 12.0, 12.0, 12.0, 12.4], [12.4, 12.2, 11.8, 12.1, 12.6], [11.6, 11.9, 12.2, 12.3, 12.3], [12.3, 12.5, 12.6, 12.4, 12.0]];

const usdJ = [
  [16.0, 10.0, 17.0, 11.0, 16.5, 12.0, 15.8, 10.5, 16.8, 11.5, 16.0, 0, 15.5, 10.5, 16.5, 11.0, 16.8, 12.5, 0, 15.8, 11.5, 16.8, 12.0, 16.5, 13.0, 16.5],
  [17.0, 0, 16.0, 0, 16.5, 12.0, 0, 15.5, 0, 16.8, 0, 17.5, 0, 15.5, 13.0, 0, 16.2, 0, 16.5, 0, 15.0, 0, 16.8, 12.5, 0, 16.0, 0, 15.8, 0, 16.5, 0, 16.0],
  [16.5, 0, 17.0, 0, 15.5, 12.0, 0, 17.8, 0, 16.0, 0, 16.5, 0, 15.8, 0, 17.0, 12.5, 0, 16.2, 0, 16.8, 0, 15.5, 0, 17.2, 0, 16.0, 13.0, 0, 16.5, 0, 16.8],
  [17.0, 0, 16.5, 0, 17.5, 13.0, 0, 16.0, 0, 16.8, 0, 15.5, 0, 17.2, 0, 16.0, 0, 16.5, 12.0, 0, 17.0, 0, 16.2, 0, 15.8, 0, 17.4, 0, 16.5, 12.5, 0, 16.0],
  [0, 17.0, 0, 17.5, 0, 16.5, 0, 17.8, 0, 16.8, 0, 17.3, 0, 16.5, 0, 17.5, 0, 17.0, 0, 17.6, 0, 16.8, 0, 17.2, 0, 17.5, 0, 16.9, 0, 17.4, 0, 17.0, 0, 17.2],
];
const usdJFit = [[15.7, 15.6, 15.3, 15.2, 15.3], [15.2, 14.8, 14.5, 14.2, 14.5], [15.6, 14.7, 14.9, 15.0, 13.0], [13.0, 15.3, 13.0, 13.8, 15.5], [13.0, 12.4, 13.1, 13.6, 14.0]];

const usdK = [
  [12.9, 17.5, 15.0, 17.8, 15.5, 16.8, 14.8, 17.5, 15.2, 12.8, 16.5, 15.0, 17.5, 15.2, 16.8, 14.6, 17.2, 13.9, 16.8, 15.0, 11.2, 17.6, 15.5, 18.3, 15.8, 18.0],
  [17.5, 15.0, 17.8, 15.5, 16.5, 13.0, 19.7, 14.5, 12.8, 17.8, 15.0, 16.5, 14.6, 17.5, 15.2, 17.3, 14.5, 17.8, 15.0, 16.8, 14.8, 17.5, 15.2, 17.0, 14.6, 17.8],
  [17.0, 15.5, 18.5, 14.5, 0, 13.0, 17.0, 15.0, 17.5, 14.5, 16.8, 15.5, 17.2, 14.8, 17.6, 15.2, 16.8, 14.5, 17.0, 13.5, 17.0, 15.0, 17.5, 15.4, 17.8, 16.0],
  [17.5, 14.8, 18.5, 15.2, 16.8, 12.2, 16.8, 15.0, 17.8, 14.5, 17.3, 15.2, 18.0, 14.8, 17.5, 15.5, 17.2, 14.6, 17.8, 15.0, 17.4, 14.8, 18.0, 15.2, 17.5, 15.5],
  [17.0, 8.4, 16.5, 14.5, 17.5, 15.0, 17.8, 19.2, 14.8, 16.5, 12.3, 17.5, 15.0, 7.2, 15.5, 18.5, 14.8, 17.5, 15.2, 18.0, 13.5, 17.8, 15.0, 18.2, 15.5, 18.0],
];
const usdKFit = [[16.3, 16.6, 16.7, 16.6, 16.8], [16.8, 16.7, 16.4, 16.3, 16.2], [16.3, 16.3, 16.3, 16.4, 16.5], [16.5, 16.5, 16.5, 16.6, 16.7], [16.5, 16.4, 16.4, 16.5, 16.6]];

const usdL = [
  [17.5, 16.0, 12.0, 17.8, 15.5, 17.2, 16.0, 18.0, 15.8, 19.0, 16.2, 17.5, 15.8, 17.6, 16.0, 18.0, 16.5, 17.4, 15.9, 17.8, 16.2, 17.6, 16.4, 17.5, 16.6, 17.4],
  [17.0, 15.0, 17.4, 15.5, 17.2, 15.8, 17.5, 15.2, 17.0, 15.6, 17.3, 15.4, 17.6, 15.8, 17.2, 15.5, 17.4, 18.6, 16.0, 17.3, 15.5, 17.0, 16.2, 17.4, 15.8, 17.2],
  [17.0, 15.2, 17.5, 15.5, 16.8, 15.0, 17.3, 15.8, 16.5, 15.2, 17.0, 15.5, 17.2, 15.6, 16.8, 15.3, 17.1, 15.8, 16.9, 15.4, 17.2, 15.6, 18.0, 16.0, 17.0, 16.5],
  [14.2, 17.0, 15.5, 17.3, 15.2, 17.8, 16.0, 17.5, 15.5, 17.6, 15.0, 18.0, 16.2, 17.8, 15.8, 17.5, 16.0, 18.2, 16.5, 17.6, 16.2, 18.0, 16.5, 18.4, 16.8, 18.8],
  [17.5, 15.0, 18.3, 15.5, 17.8, 16.0, 18.5, 15.5, 17.5, 16.2, 18.0, 15.6, 17.8, 16.0, 18.2, 15.8, 17.0, 16.2, 17.6, 15.8, 17.5, 16.4, 17.8, 16.0, 17.2, 14.8],
];
const usdLFit = [[16.5, 16.8, 16.9, 16.8, 16.9], [16.6, 16.7, 16.8, 16.8, 16.8], [16.7, 16.6, 16.5, 16.4, 16.6], [16.5, 16.8, 16.8, 16.9, 17.0], [16.6, 17.0, 17.2, 16.9, 16.8]];

const usdM = [
  [16.0, 9.0, 15.5, 10.5, 16.2, 0, 15.5, 8.5, 16.2, 11.0, 15.0, 10.0, 16.5, 9.5, 15.8, 10.5, 0, 15.5, 0, 16.0, 9.5, 16.5, 11.0, 15.8, 10.0, 16.2, 3.3, 16.0],
  [14.5, 9.0, 16.0, 5.5, 17.0, 0, 17.5, 9.0, 18.0, 8.0, 16.5, 10.5, 17.2, 6.0, 17.0, 10.0, 16.0, 8.5, 17.5, 11.0, 16.8, 9.5, 17.2, 10.5, 16.5, 11.5, 17.0, 16.8],
  [16.5, 11.0, 17.0, 6.5, 16.2, 9.5, 16.8, 8.5, 17.0, 10.5, 16.2, 9.0, 0, 15.8, 0, 16.5, 10.0, 17.2, 9.0, 16.5, 11.5, 17.0, 10.5, 16.8, 11.0, 16.5],
  [17.5, 12.0, 18.0, 11.5, 17.0, 13.0, 17.8, 12.5, 17.2, 11.0, 18.2, 13.0, 17.5, 12.0, 17.0, 7.5, 17.2, 13.5, 18.2, 12.0, 17.5, 12.8, 17.8, 13.0, 17.2, 17.5],
  [17.0, 12.5, 5.6, 17.5, 12.0, 16.5, 13.5, 17.2, 11.0, 16.8, 13.0, 17.0, 12.0, 16.5, 13.5, 17.3, 12.2, 16.8, 13.0, 17.2, 11.8, 16.5, 13.2, 17.0, 13.5, 16.5],
];
const usdMFit = [[13.3, 13.3, 13.2, 12.5, 13.4], [13.0, 13.5, 14.0, 14.5, 15.1], [14.6, 14.5, 14.7, 15.0, 15.5], [15.8, 16.3, 15.8, 15.3, 15.2], [15.4, 15.5, 15.4, 15.3, 15.0]];

const usdN = [
  [0, 16.5, 11.0, 17.0, 12.0, 15.5, 10.5, 16.8, 11.5, 16.0, 12.5, 15.5, 10.5, 16.5, 0, 16.0, 11.5, 15.8, 12.0, 16.2, 0, 16.5, 11.0, 15.5, 0, 14.0, 16.2, 15.5],
  [15.5, 10.0, 16.0, 6.5, 15.0, 9.0, 16.2, 10.5, 15.0, 11.0, 0, 17.3, 10.0, 15.8, 9.5, 16.0, 11.0, 8.0, 16.0, 10.5, 15.5, 9.5, 16.2, 11.0, 15.8, 12.0, 16.2, 15.5],
  [16.0, 12.0, 16.5, 13.0, 15.5, 12.5, 16.0, 9.5, 15.5, 13.0, 16.2, 12.5, 15.8, 0, 16.2, 11.5, 15.8, 12.5, 16.0, 13.0, 15.6, 12.0, 16.3, 0, 15.5, 15.5],
  [16.5, 10.0, 15.5, 0, 16.0, 9.5, 15.5, 11.0, 16.2, 0, 15.0, 0, 16.2, 10.5, 15.8, 9.0, 0, 15.5, 11.0, 16.5, 8.5, 15.8, 9.5, 16.5, 10.5, 15.5, 12.0, 16.0],
  [0, 16.0, 15.5, 0, 16.0, 9.5, 16.5, 11.0, 15.8, 7.5, 16.5, 10.5, 15.8, 11.0, 16.5, 9.5, 16.0, 12.0, 16.3, 10.0, 15.6, 11.5, 16.2, 12.0, 15.8, 7.8],
];
const usdNFit = [[13.0, 14.9, 14.0, 13.3, 13.1], [14.2, 13.8, 14.0, 14.3, 14.5], [14.6, 15.0, 14.6, 14.2, 13.8], [13.9, 14.3, 13.7, 14.0, 14.8], [13.0, 14.6, 14.3, 14.2, 13.9]];

const usdSBN = [
  [15.5, 16.5, 15.0, 16.3, 15.6, 16.6, 15.2, 16.2, 15.8, 16.5, 15.0, 16.4, 15.6, 16.3, 15.3, 16.5, 15.7, 16.2, 15.4, 16.6, 15.8, 16.3, 15.5, 16.5, 15.9, 16.3],
  [16.0, 16.5, 15.6, 16.4, 15.8, 16.6, 15.5, 17.3, 15.9, 16.3, 15.6, 16.5, 15.8, 16.2, 15.5, 16.6, 15.9, 16.3, 15.6, 16.5, 15.8, 16.2, 15.7, 16.4, 15.8, 16.2],
  [16.0, 15.4, 16.2, 15.2, 16.0, 15.5, 16.3, 15.0, 16.1, 15.4, 16.2, 15.3, 16.0, 15.6, 16.3, 15.2, 16.1, 14.8, 16.1, 15.6, 16.0, 15.3, 16.2, 15.5, 16.3, 16.0],
  [16.0, 16.5, 15.8, 16.4, 16.0, 16.6, 15.9, 16.3, 16.1, 16.7, 15.9, 16.5, 16.2, 16.6, 16.0, 16.5, 16.1, 16.7, 15.9, 16.5, 16.2, 16.6, 16.0, 16.8, 16.2, 16.6],
  [16.2, 16.8, 16.0, 17.0, 16.3, 16.6, 16.1, 17.3, 16.4, 16.9, 16.2, 16.7, 16.4, 16.9, 16.1, 16.8, 16.3, 17.0, 16.2, 16.7, 16.4, 16.9, 16.3, 16.8, 16.4, 16.9],
];
const usdSBNFit = [[15.9, 16.1, 16.2, 16.2, 16.3], [16.3, 16.3, 16.2, 16.2, 16.1], [16.0, 15.9, 15.9, 16.0, 16.0], [16.0, 16.1, 16.1, 16.2, 16.2], [16.3, 16.3, 16.3, 16.3, 16.4]];

// ---------- look & layout ----------
const SANS = '"Liberation Sans", Arial, Helvetica, sans-serif';
const SERIF = '"Liberation Serif", "Times New Roman", serif';
const STRIP_FILL = "#2C3E50";
const SMOOTH_COLOR = "#3366FF";
const AXIS_TEXT = "#48535e";
const TITLE_TEXT = "#2C3E50";
const BORDER = "#5b6772";
const TICK = "#cfcfcf";
const GRID_MAJOR = "#e0e0e0";
const GRID_MINOR = "#eeeeee";

const VIEW_W = 1088;
const VIEW_H = 1380;
const CANVAS_W = 1112; // the last facet column runs past the visible edge
const PANEL_LEFT = [59, 274, 489, 704, 919];
const PANEL_W = 178.5;
const STRIP_H = 31;
const PLOT_H = 137.5;
const X_MIN = 2017.75;
const X_MAX = 2023.24;
const CENTER_X = 555;

const SECTIONS = [
  {
    title: "Colones",
    titleY: 27,
    axisTitleY: 357,
    stripTops: [53.3, 258.3, 463.3],
    yMin: -1.34,
    yMax: 28.09,
    yMajor: COLONES_TICKS,
    yMinor: COLONES_MINOR,
    raw: [colA, colB, colC, colD, colE, colF, colG, colH, colI, colJ, colK, colL, colM, colN, colSBN],
    fit: [colAFit, colBFit, colCFit, colDFit, colEFit, colFFit, colGFit, colHFit, colIFit, colJFit, colKFit, colLFit, colMFit, colNFit, colSBNFit],
  },
  {
    title: "Dólares",
    titleY: 680,
    axisTitleY: 1006,
    stripTops: [702.7, 907.7, 1112.7],
    yMin: -0.99,
    yMax: 20.76,
    yMajor: DOLARES_TICKS,
    yMinor: DOLARES_MINOR,
    raw: [usdA, usdB, usdC, usdD, usdE, usdF, usdG, usdH, usdI, usdJ, usdK, usdL, usdM, usdN, usdSBN],
    fit: [usdAFit, usdBFit, usdCFit, usdDFit, usdEFit, usdFFit, usdGFit, usdHFit, usdIFit, usdJFit, usdKFit, usdLFit, usdMFit, usdNFit, usdSBNFit],
  },
];

// readings spread evenly across their year
function yearPoints(year: number, vals: number[]) {
  const n = vals.length;
  return vals.map((v, i) => [year + (i / (n - 1)) * 0.997, v]);
}

// quarterly smoother knots, broken between years
function fitPoints(fits: number[][]) {
  const out: (number | string)[][] = [];
  fits.forEach((arr, k) => {
    arr.forEach((v, j) => out.push([YEARS[k] + j * 0.25 * 0.997, v]));
    out.push([YEARS[k] + 0.999, "-"]);
  });
  return out;
}

function buildOption() {
  const grid: any[] = [];
  const xAxis: any[] = [];
  const yAxis: any[] = [];
  const series: any[] = [];
  const graphic: any[] = [];

  SECTIONS.forEach((sec) => {
    graphic.push({
      type: "text",
      x: CENTER_X,
      y: sec.titleY,
      style: { text: sec.title, fill: "#000", fontSize: 32, fontWeight: "bold", fontFamily: SERIF, align: "center", verticalAlign: "middle" },
    });
    graphic.push({
      type: "text",
      x: 19,
      y: sec.axisTitleY,
      rotation: Math.PI / 2,
      style: { text: "Escala logarítmica", fill: TITLE_TEXT, fontSize: 18, fontFamily: SANS, align: "center", verticalAlign: "middle" },
    });

    sec.raw.forEach((panel, p) => {
      const row = Math.floor(p / 5);
      const col = p % 5;
      const gi = grid.length;
      const left = PANEL_LEFT[col];
      const stripTop = sec.stripTops[row];
      const top = stripTop + STRIP_H;

      grid.push({ left, top, width: PANEL_W, height: PLOT_H, show: true, backgroundColor: "#ffffff", borderColor: BORDER, borderWidth: 1 });

      xAxis.push({
        type: "value",
        gridIndex: gi,
        min: X_MIN,
        max: X_MAX,
        axisLine: { show: false },
        splitLine: { show: false },
        axisTick: { show: row === 2, customValues: X_TICKS, length: 3, lineStyle: { color: TICK } },
        axisLabel: { show: row === 2, customValues: X_TICKS, margin: 7, fontSize: 15, color: AXIS_TEXT, fontFamily: SANS, formatter: (v: number) => String(v) },
      });
      yAxis.push({
        type: "value",
        gridIndex: gi,
        min: sec.yMin,
        max: sec.yMax,
        axisLine: { show: false },
        splitLine: { show: false },
        axisTick: { show: col === 0, customValues: sec.yMajor, length: 3, lineStyle: { color: TICK } },
        axisLabel: { show: col === 0, customValues: sec.yMajor, margin: 7, fontSize: 15, color: AXIS_TEXT, fontFamily: SANS, formatter: (v: number) => String(v) },
      });

      // panel grid lines (major + minor), beneath the data
      const minorStyle = { color: GRID_MINOR, width: 1, type: "solid" };
      const majorStyle = { color: GRID_MAJOR, width: 1, type: "solid" };
      series.push({
        type: "line",
        xAxisIndex: gi,
        yAxisIndex: gi,
        data: [],
        silent: true,
        z: 1,
        markLine: {
          silent: true,
          z: 1,
          symbol: ["none", "none"],
          label: { show: false },
          emphasis: { disabled: true },
          animation: false,
          data: [
            ...X_MINOR.map((v) => ({ xAxis: v, lineStyle: minorStyle })),
            ...sec.yMinor.map((v) => ({ yAxis: v, lineStyle: minorStyle })),
            ...X_TICKS.map((v) => ({ xAxis: v, lineStyle: majorStyle })),
            ...sec.yMajor.map((v) => ({ yAxis: v, lineStyle: majorStyle })),
          ],
        },
      });

      panel.forEach((vals, k) => {
        series.push({
          type: "line",
          name: String(YEARS[k]),
          xAxisIndex: gi,
          yAxisIndex: gi,
          data: yearPoints(YEARS[k], vals),
          symbol: "none",
          showSymbol: false,
          silent: true,
          z: 2,
          lineStyle: { color: YEAR_COLORS[k], width: 1 },
          itemStyle: { color: YEAR_COLORS[k] },
          emphasis: { disabled: true },
        });
      });

      series.push({
        type: "line",
        name: "tendencia",
        xAxisIndex: gi,
        yAxisIndex: gi,
        data: fitPoints(sec.fit[p]),
        symbol: "none",
        showSymbol: false,
        silent: true,
        smooth: 0.35,
        connectNulls: false,
        z: 3,
        lineStyle: { color: SMOOTH_COLOR, width: 2.6 },
        itemStyle: { color: SMOOTH_COLOR },
        emphasis: { disabled: true },
      });

      // facet strip
      graphic.push({
        type: "rect",
        shape: { x: left, y: stripTop, width: PANEL_W, height: STRIP_H },
        style: { fill: STRIP_FILL },
      });
      graphic.push({
        type: "text",
        x: left + PANEL_W / 2,
        y: stripTop + STRIP_H / 2,
        style: { text: PANEL_NAMES[p], fill: "#ffffff", fontSize: 15, fontFamily: SANS, align: "center", verticalAlign: "middle" },
      });
    });
  });

  // legend
  const legendY = 1369;
  graphic.push({
    type: "text",
    x: 340,
    y: legendY,
    style: { text: "Legend", fill: TITLE_TEXT, fontSize: 18.5, fontFamily: SANS, align: "left", verticalAlign: "middle" },
  });
  YEARS.forEach((yr, k) => {
    const x0 = 417 + k * 82.5;
    graphic.push({
      type: "line",
      shape: { x1: x0, y1: legendY, x2: x0 + 23, y2: legendY },
      style: { stroke: YEAR_COLORS[k], lineWidth: 1.5 },
    });
    graphic.push({
      type: "text",
      x: x0 + 35,
      y: legendY,
      style: { text: String(yr), fill: TITLE_TEXT, fontSize: 15, fontFamily: SANS, align: "left", verticalAlign: "middle" },
    });
  });

  return {
    animation: false,
    backgroundColor: "#ffffff",
    grid,
    xAxis,
    yAxis,
    series,
    graphic,
  };
}

export default function App() {
  const ref = useRef<HTMLDivElement>(null);
  useEffect(() => {
    if (!ref.current) return;
    const chart = echarts.init(ref.current, null, { renderer: "svg" });
    chart.setOption(buildOption() as any);
    return () => chart.dispose();
  }, []);
  return (
    <div style={{ position: "absolute", left: 0, top: 0, width: VIEW_W, height: VIEW_H, overflow: "hidden", background: "#ffffff" }}>
      <div ref={ref} style={{ width: CANVAS_W, height: VIEW_H }} />
    </div>
  );
}
